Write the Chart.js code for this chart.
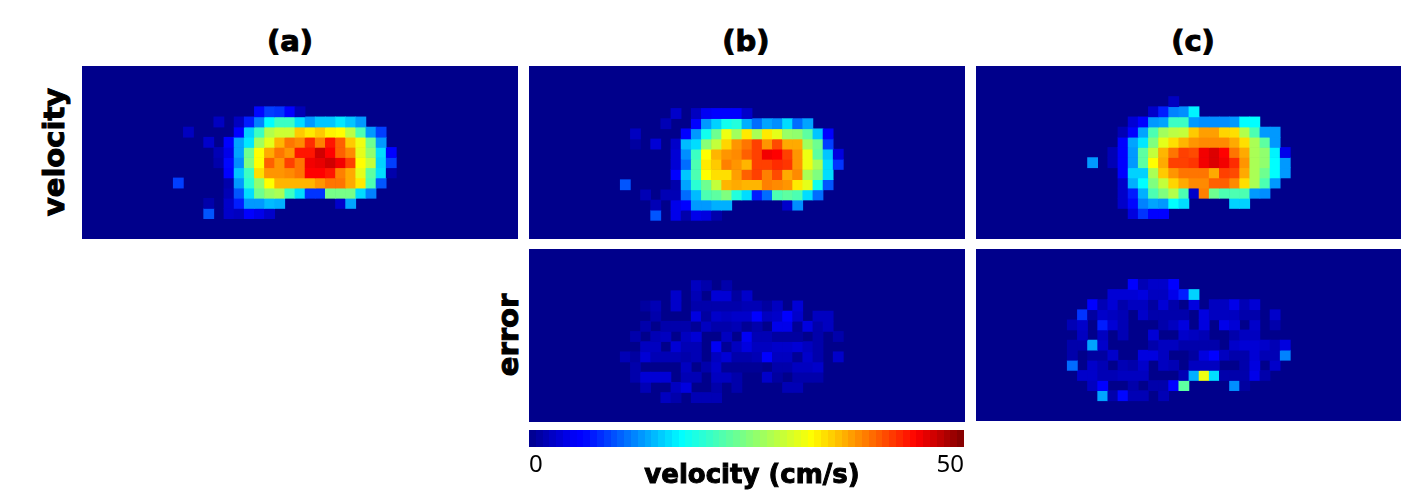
<!DOCTYPE html>
<html>
<head>
<meta charset="utf-8">
<title>velocity and error maps</title>
<script src="https://cdn.jsdelivr.net/npm/chart.js@4"></script>
<style>
html, body { margin: 0; padding: 0; background: #fff; width: 1401px; height: 497px; overflow: hidden; }
canvas { position: absolute; display: block; }
.map { background: rgb(0, 0, 139); }
.lbl { position: absolute; font-family: "DejaVu Sans", sans-serif; font-weight: bold; color: #000; white-space: nowrap; line-height: 1; transform: translate(-50%, -50%); -webkit-text-stroke: 1px #000; }
.rot { transform: translate(-50%, -50%) rotate(-90deg); }
</style>
</head>
<body>
<canvas id="map_a" class="map" width="436" height="173" style="left:82px;top:66px"></canvas>
<canvas id="map_b" class="map" width="436" height="173" style="left:529px;top:66px"></canvas>
<canvas id="map_c" class="map" width="436" height="173" style="left:976px;top:66px"></canvas>
<canvas id="err_b" class="map" width="436" height="173" style="left:529px;top:249px"></canvas>
<canvas id="err_c" class="map" width="436" height="172" style="left:976px;top:249px"></canvas>
<canvas id="colorbar" width="455" height="50" style="left:520px;top:430px"></canvas>

<div class="lbl" style="left:290px;top:41px;font-size:29px">(a)</div>
<div class="lbl" style="left:746px;top:41px;font-size:29px">(b)</div>
<div class="lbl" style="left:1193px;top:41px;font-size:29px">(c)</div>
<div class="lbl rot" style="left:54px;top:152px;font-size:29px">velocity</div>
<div class="lbl rot" style="left:508px;top:335px;font-size:29px">error</div>
<div class="lbl" style="left:752px;top:474px;font-size:26px">velocity (cm/s)</div>

<script>
// Data: rows 3-14, columns 9-31 of the 17 x 43 grid, everything else is 0 (cm/s)
var n_cols = 43
var n_rows = 17
var first_col = 9
var first_row = 3
var colorbar_range = [0, 50]

var velocity_a = [
  [0,0,0,0,0,0,0,0,0,0,0,0,0,0,0,0,0,0,0,0,0,0,0],
  [0,0,0,0,0,0,0,0,6.5,9,8.5,6,2,0,0,0,0,0,0,0,0,0,0],
  [0,0,0,0,2.5,0,2.5,7.5,12,17.5,21,21,16,13,15,15,16.5,15,13,0,0,0,0],
  [0,2.5,0,0,0,0,6,15.5,21,28,29.5,29.5,35,33.5,35,33,32.5,28.5,22,13,9,0,0],
  [0,0,0,3,0,5.5,13.5,16.5,27,31,36,39,38,42.5,38.5,43.5,40,35,31.5,24,13,0,0],
  [0,0,0,0,2,4.5,13.5,24,32.5,36.5,39,37.5,43.5,43.5,46.5,44.5,40,38,31,26,16,6,0],
  [0,0,0,0,1.5,6.5,12.5,25,32.5,40,37.5,41.5,39,45,45.5,46.5,45,41.5,32.5,29,15.5,9,0],
  [0,0,0,0,0,6,15,21,34,37.5,37.5,38,39,44.5,44.5,43.5,38.5,36.5,31,23,16,1.5,0],
  [9,0,0,0,0,1.5,13,20,26,32.5,36,36,36,36,37.5,39,39,36.5,33.5,22,10,0,0],
  [0,0,0,0,0,2,10,16,24,26.5,27.5,21,16,8.5,8.5,24.5,24.5,24.5,16,12,0,0,0],
  [0,0,0,1.5,0,3,7.5,13,13,14.5,14,0,0,0,0,0,3,13.5,0,0,0,0,0],
  [0,0,0,10,0,3,2.5,6,4.5,3,0,0,0,0,0,0,0,0,0,0,0,0,0]
]

var velocity_b = [
  [0,0,0,0,0,0,0,0,0,0,0,0,0,0,0,0,0,0,0,0,0,0,0],
  [0,0,0,0,0,3,0,2.5,5,6,5.5,6,3,0,0,0,0,0,0,0,0,0,0],
  [0,0,0,0,2,0,0,6,13,15.5,18.5,19.5,14,11,13.5,12.5,16,11,13.5,0,0,0,0],
  [0,2.5,0,0,0,0,6,13,18.5,24,31.5,27,33.5,27.5,33.5,31,26.5,26,23,15,6,0,0],
  [0,1,0,3.5,0,3,14.5,16,25.5,29,34.5,37.5,39,41.5,37.5,41,36.5,36.5,27,24,9,0,0],
  [0,0,0,0,0,3.5,12.5,21,32.5,36,37.5,38,40,41.5,45,44.5,41.5,37.5,31.5,23,15,4,0],
  [0,0,0,0,0,3.5,11,22,33.5,35,38.5,37.5,36,41.5,41.5,42.5,42,37.5,31.5,27.5,16,8.5,0],
  [0,0,0,0,0,5.5,15,22,32.5,34,34,37,40,41.5,38.5,41,36.5,38,27.5,25,16,0,0],
  [10,0,0,0,0,1.5,13.5,20,24,29,36,36.5,36,36,38.5,38,37.5,33.5,31,18.5,10,0,0],
  [0,0,2,0,2,2,11,14.5,22,23,25,19.5,16,7.5,11,22,23,22,16,11,0,0,0],
  [0,0,0,2,0,4.5,5.5,13,13,14,14,0,0,0,0,0,3,12.5,0,0,0,0,0],
  [0,0,0,10,0,4.5,1.5,4.5,4,1.5,0,0,0,0,0,0,0,0,0,0,0,0,0]
]

var velocity_c = [
  [0,0,0,0,0,0,0,0,0,0,2.5,0,0,0,0,0,0,0,0,0,0,0,0],
  [0,0,0,0,0,0,0,0,3,7.5,12,12.5,17,0,0,0,0,0,0,0,0,0,0],
  [0,0,0,0,0,0,3.5,6,13,13.5,21,21,13,12.5,12.5,12.5,13,17.5,17.5,0,0,0,0],
  [0,0,0,0,0,2,6,13.5,22,27,28.5,29,35,37,37,34.5,34,28,22,13,13,0,0],
  [0,0,0,0,0,5.5,13.5,16.5,25,31,34,36,37.5,38,38,38,36.5,34,27.5,23,13,0,0],
  [0,0,0,0,2,6,13,23,29,36,39,41.5,41,45,46,44.5,39,36.5,27.5,26,17,4.5,0],
  [0,0,13,0,2,6,13,23,32.5,36.5,41.5,41.5,42,45,46,45,42.5,37.5,27.5,26,17.5,13,0],
  [0,0,0,0,0,6,15.5,15.5,27.5,35,37.5,39,39,39,36.5,41.5,41,36.5,27.5,24,17.5,13,0],
  [0,0,0,0,0,3,14,17.5,25,29,34.5,36.5,38,38,40,40,38,34,27.5,22,13,0,0],
  [0,0,0,0,0,3,7.5,14,22,25,28,22,3,38.5,24,22,22,22,13,12.5,0,0,0],
  [0,0,0,0,0,3,6.5,12,13.5,13,17.5,16,0,0,0,0,15.5,15.5,0,0,0,0,0],
  [0,0,0,0,0,0,4,8.5,5.5,5.5,0,0,0,0,0,0,0,0,0,0,0,0,0]
]

var error_b = [
  [0,0,0,0,0,0,0,2.5,1.5,0,1.5,0,0,0,0,0,0,0,0,0,0,0,0],
  [0,0,0,0,0,3,0,2,0,3.5,3.5,1,3,0,0,0,0,0,0,0,0,0,0],
  [0,0,1,2,0,3,0,1.5,1.5,1.5,1.5,1.5,2,2,1,2.5,0,3.5,0,0,0,0,0],
  [0,0,0,1.5,0,0,0,4,1,3,2.5,3,3,6,2.5,3,5.5,3,0,2.5,2.5,0,0],
  [0,0,1.5,0,1.5,1.5,1.5,.5,2.5,1.5,1.5,2,.5,1.5,0,4.5,4.5,.5,4,1.5,2.5,0,0],
  [0,1.5,0,2,2.5,0,2.5,3.5,0,0,2.5,0,5,2,2,1,1,1,0,1.5,0,1.5,0],
  [0,0,2.5,2.5,0,3.5,2,2,0,5,.5,2.5,4,2.5,2.5,3,3,3.5,2.5,1.5,0,0,0],
  [2,1,3.5,2,2,2,1.5,2,0,2.5,3.5,1.5,1.5,2,6,2.5,2.5,.5,3,1.5,0,3,0],
  [0,1.5,0,0,0,0,2.5,0,1.5,3,.5,.5,.5,.5,0,1.5,1.5,2.5,2.5,3,0,0,0],
  [0,1.5,3.5,3.5,3.5,0,2,2,0,2.5,2.5,1.5,0,0,3,1,0,1.5,1.5,1.5,0,0,0],
  [0,0,2,0,0,2.5,4,0,0,1.5,0,1.5,0,0,0,0,2,2,0,0,0,0,0],
  [0,0,0,0,2.5,1.5,0,2,2,2,0,0,0,0,0,0,0,0,0,0,0,0,0]
]

var error_c = [
  [0,0,0,0,0,0,6,2,3,3,5.5,0,0,0,0,0,0,0,0,0,0,0,0],
  [0,0,0,0,3.5,3.5,3.5,4,2.5,2.5,4.5,7.5,15.5,0,0,0,0,0,0,0,0,0,0],
  [0,0,5.5,2,3.5,1.5,2.5,2.5,1,3.5,1.5,0,4,0,2.5,2.5,4.5,2,3.5,0,0,0,0],
  [0,8.5,1,3,2.5,2,0,3,1.5,1.5,1.5,1.5,0,4,2.5,2.5,2.5,1.5,1.5,0,3,0,0],
  [2,3,0,7.5,3.5,2,0,0,0,1.5,2.5,4,0,4,0,4.5,3.5,0,3,0,1.5,0,0],
  [0,2.5,0,2.5,0,2,0,0,3.5,0,0,3,2.5,2,0,0,1.5,2.5,2.5,0,0,0,0],
  [1.5,1.5,13.5,3,0,0,0,0,1.5,2.5,2.5,1.5,1.5,1.5,1.5,0,3,3.5,3.5,3,2,4,0],
  [1.5,0,1,1,3,0,0,4,4,2.5,0,0,1,4,5.5,2.5,1.5,1.5,3.5,2,2,12,0],
  [11,0,3,2,0,2,1.5,3,0,2.5,2,0,2.5,2.5,2.5,0,0,1.5,4,0,3,0,0],
  [0,3,3,2,2,2.5,2.5,2.5,0,0,0,2,14,31.5,16,1.5,1.5,1.5,4.5,1.5,0,0,0],
  [0,0,2.5,5.5,0,0,1.5,0,1.5,1.5,5.5,23,0,0,0,0,12.5,1,0,0,0,0,0],
  [0,0,0,13.5,1.5,6.5,2,2,0,2,0,0,0,0,0,0,0,0,0,0,0,0,0]
]

// Jet colormap
var jet_stops = [
  [0, 0, 0, 139], [0.11, 0, 0, 255], [0.125, 0, 0, 255], [0.35, 0, 255, 255],
  [0.5, 127, 255, 127], [0.65, 255, 255, 0], [0.89, 255, 0, 0], [1, 127, 0, 0]
]

function jet(v) {
  var t = Math.min(1, Math.max(0, v / colorbar_range[1]))
  for (var i = 1; i < jet_stops.length; i++) {
    if (t <= jet_stops[i][0]) {
      var a = jet_stops[i - 1], b = jet_stops[i]
      var f = (t - a[0]) / (b[0] - a[0])
      return "rgb(" + Math.round(a[1] + f * (b[1] - a[1])) + "," +
        Math.round(a[2] + f * (b[2] - a[2])) + "," +
        Math.round(a[3] + f * (b[3] - a[3])) + ")"
    }
  }
}

// One floating bar per non-zero cell, one dataset per grid row.
// row_shift: the sub-images in the figure are not perfectly aligned, in rows
function draw_map(id, values, row_shift) {
  var labels = []
  for (var c = 0; c < n_cols; c++) labels.push(c)

  var datasets = []
  for (var r = 0; r < n_rows; r++) {
    var row = values[r - first_row] || []
    var cells = [], colors = []
    for (var k = 0; k < n_cols; k++) {
      var v = row[k - first_col] || 0
      cells.push(v > 0 ? [r, r + 1] : null)
      colors.push(jet(v))
    }
    datasets.push({ label: "row " + r, data: cells, backgroundColor: colors, borderWidth: 0,
      grouped: false, barPercentage: 1, categoryPercentage: 1 })
  }

  return new Chart(document.getElementById(id), {
    type: "bar",
    data: { labels: labels, datasets: datasets },
    options: {
      responsive: false,
      animation: false,
      events: [],
      plugins: { legend: { display: false }, tooltip: { enabled: false } },
      scales: {
        x: { display: false },
        y: { display: false, reverse: true, min: -row_shift, max: n_rows - row_shift }
      }
    }
  })
}

draw_map("map_a", velocity_a, 0)
draw_map("map_b", velocity_b, 0.17)
draw_map("map_c", velocity_c, 0)
draw_map("err_b", error_b, 0.1)
draw_map("err_c", error_c, 0)

// Colorbar: a single floating bar on the velocity axis, filled with 64 jet bands
function colorbar_fill(context) {
  var area = context.chart.chartArea
  if (!area) return jet(0)
  var g = context.chart.ctx.createLinearGradient(area.left, 0, area.right, 0)
  for (var i = 0; i < 64; i++) {
    var col = jet(colorbar_range[1] * (i + 0.5) / 64)
    g.addColorStop(i / 64, col)
    g.addColorStop((i + 1) / 64, col)
  }
  return g
}

new Chart(document.getElementById("colorbar"), {
  type: "bar",
  data: {
    labels: ["velocity"],
    datasets: [{ data: [colorbar_range], backgroundColor: colorbar_fill, borderWidth: 0,
      barPercentage: 1, categoryPercentage: 1 }]
  },
  options: {
    indexAxis: "y",
    responsive: false,
    animation: false,
    events: [],
    layout: { padding: { left: 9, right: 11 } },
    plugins: { legend: { display: false }, tooltip: { enabled: false } },
    scales: {
      y: { display: false },
      x: {
        min: colorbar_range[0],
        max: colorbar_range[1],
        afterFit: function (scale) { scale.height = 33 },
        grid: { display: false },
        border: { display: false },
        ticks: {
          stepSize: 50,
          align: "inner",
          maxRotation: 0,
          padding: -4,
          color: "#000",
          font: { family: "'Noto Sans'", size: 24 }
        }
      }
    }
  }
})
</script>
</body>
</html>
